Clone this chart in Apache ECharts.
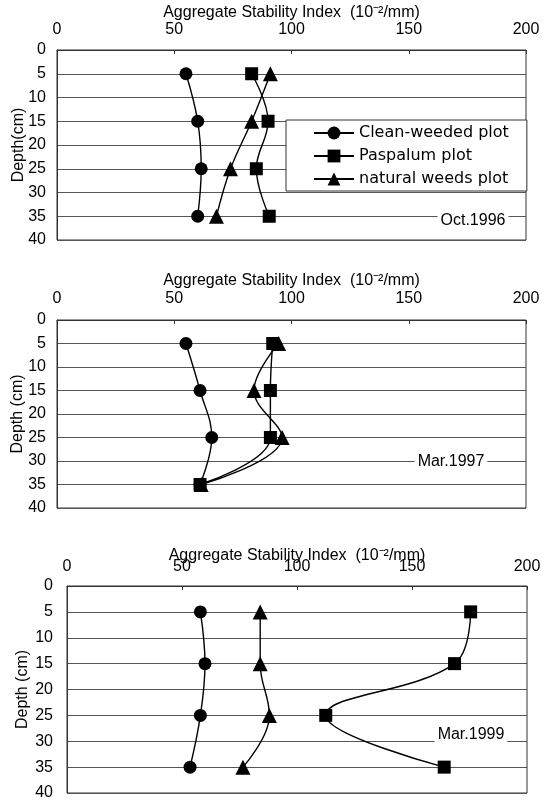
<!DOCTYPE html>
<html>
<head>
<meta charset="utf-8">
<script src="https://cdn.jsdelivr.net/npm/echarts@6/dist/echarts.min.js"></script>
<style>
html,body{margin:0;padding:0;background:#fff;}
#c{width:551px;height:800px;}
</style>
</head>
<body>
<div id="c"></div>
<script>
// ---- data ----
const depths = [5, 15, 25, 35];
const xTicks = [0, 50, 100, 150, 200];
const yTicks = [0, 5, 10, 15, 20, 25, 30, 35, 40];
const seriesNames = ['Clean-weeded plot', 'Paspalum plot', 'natural weeds plot'];
const panelDates = ['Oct.1996', 'Mar.1997', 'Mar.1999'];
const xTitle = 'Aggregate Stability Index  (10⁻²/mm)';
const yTitles = ['Depth(cm)', 'Depth (cm)', 'Depth (cm)'];

const oct96Clean    = [55, 60, 61.5, 60];
const oct96Paspalum = [83, 90, 85, 90.5];
const oct96Natural  = [91, 83, 74, 68];

const mar97Clean    = [55, 61, 66, 61];
const mar97Paspalum = [92, 91, 91, 61];
const mar97Natural  = [94.5, 84, 96, 61.5];

const mar99Clean    = [58, 60, 58, 53.5];
const mar99Paspalum = [175.5, 168.5, 112.5, 164];
const mar99Natural  = [84, 84, 88, 76.5];

const panels = [
  [oct96Clean, oct96Paspalum, oct96Natural],
  [mar97Clean, mar97Paspalum, mar97Natural],
  [mar99Clean, mar99Paspalum, mar99Natural]
];

// ---- layout ----
const grids = [
  {left: 57, right: 25, top: 50, height: 190},
  {left: 57, right: 25, top: 320, height: 188},
  {left: 67, right: 24, top: 586, height: 207}
];
const xNameGap = [29, 31, 22];
const xLabelMargin = [12, 13, 11];
const yNameGap = [30, 31, 36];
const yLabelMargin = [11, 11, 14];
const datePos = [[473, 221], [451, 462], [471, 735]];

const symbols = ['circle', 'rect', 'triangle'];
const symbolSizes = [13, 13, 15];
const FONT = 'Liberation Sans';

const option = {
  animation: false,
  backgroundColor: '#fff',
  grid: grids.map(g => Object.assign({show: true, borderColor: '#333', borderWidth: 1, backgroundColor: 'transparent', containLabel: false, outerBoundsMode: 'none'}, g)),
  legend: {
    data: seriesNames,
    orient: 'vertical',
    left: 286, top: 120,
    padding: [5, 18, 4, 27],
    itemWidth: 40, itemHeight: 16, itemGap: 7,
    backgroundColor: '#fff', borderColor: '#333', borderWidth: 1, borderRadius: 0,
    textStyle: {fontFamily: 'DejaVu Sans', fontSize: 16, color: '#000'},
    selectedMode: false
  },
  xAxis: grids.map((g, i) => ({
    gridIndex: i, type: 'value', position: 'top',
    min: xTicks[0], max: xTicks[xTicks.length - 1], interval: xTicks[1] - xTicks[0],
    name: xTitle, nameLocation: 'middle', nameGap: xNameGap[i], nameMoveOverlap: false,
    nameTextStyle: {fontFamily: FONT, fontSize: 16, color: '#000'},
    axisLine: {show: true, lineStyle: {color: '#333', width: 1}},
    axisTick: {show: true, inside: true, length: 4, lineStyle: {color: '#333'}},
    axisLabel: {margin: xLabelMargin[i], fontFamily: FONT, fontSize: 16, color: '#000', hideOverlap: false},
    splitLine: {show: false}
  })),
  yAxis: grids.map((g, i) => ({
    gridIndex: i, type: 'value', inverse: true,
    min: yTicks[0], max: yTicks[yTicks.length - 1], interval: yTicks[1] - yTicks[0],
    name: yTitles[i], nameLocation: 'middle', nameGap: yNameGap[i], nameMoveOverlap: false,
    nameTextStyle: {fontFamily: FONT, fontSize: 16, color: '#000'},
    axisLine: {show: true, lineStyle: {color: '#333', width: 1}},
    axisTick: {show: false},
    axisLabel: {margin: yLabelMargin[i], fontFamily: FONT, fontSize: 16, color: '#000', hideOverlap: false},
    splitLine: {show: true, lineStyle: {color: '#555', width: 1}}
  })),
  series: [],
  graphic: panelDates.map((t, i) => ({
    type: 'text', x: datePos[i][0], y: datePos[i][1], z: 100,
    style: {text: t, font: '16px "Liberation Sans"', fill: '#000', align: 'center', verticalAlign: 'middle',
            backgroundColor: '#fff', padding: [1, 3]}
  }))
};

panels.forEach((vals, p) => {
  vals.forEach((arr, s) => {
    option.series.push({
      type: 'line', name: seriesNames[s],
      xAxisIndex: p, yAxisIndex: p,
      data: arr.map((v, k) => [v, depths[k]]),
      smooth: 0.4,
      symbol: symbols[s], symbolSize: symbolSizes[s],
      showAllSymbol: true,
      lineStyle: {color: '#000', width: 1.4},
      itemStyle: {color: '#000', borderWidth: 0},
      emphasis: {disabled: true},
      z: 3 + s
    });
  });
});

const chart = echarts.init(document.getElementById('c'), null, {renderer: 'canvas'});
chart.setOption(option);
</script>
</body>
</html>
